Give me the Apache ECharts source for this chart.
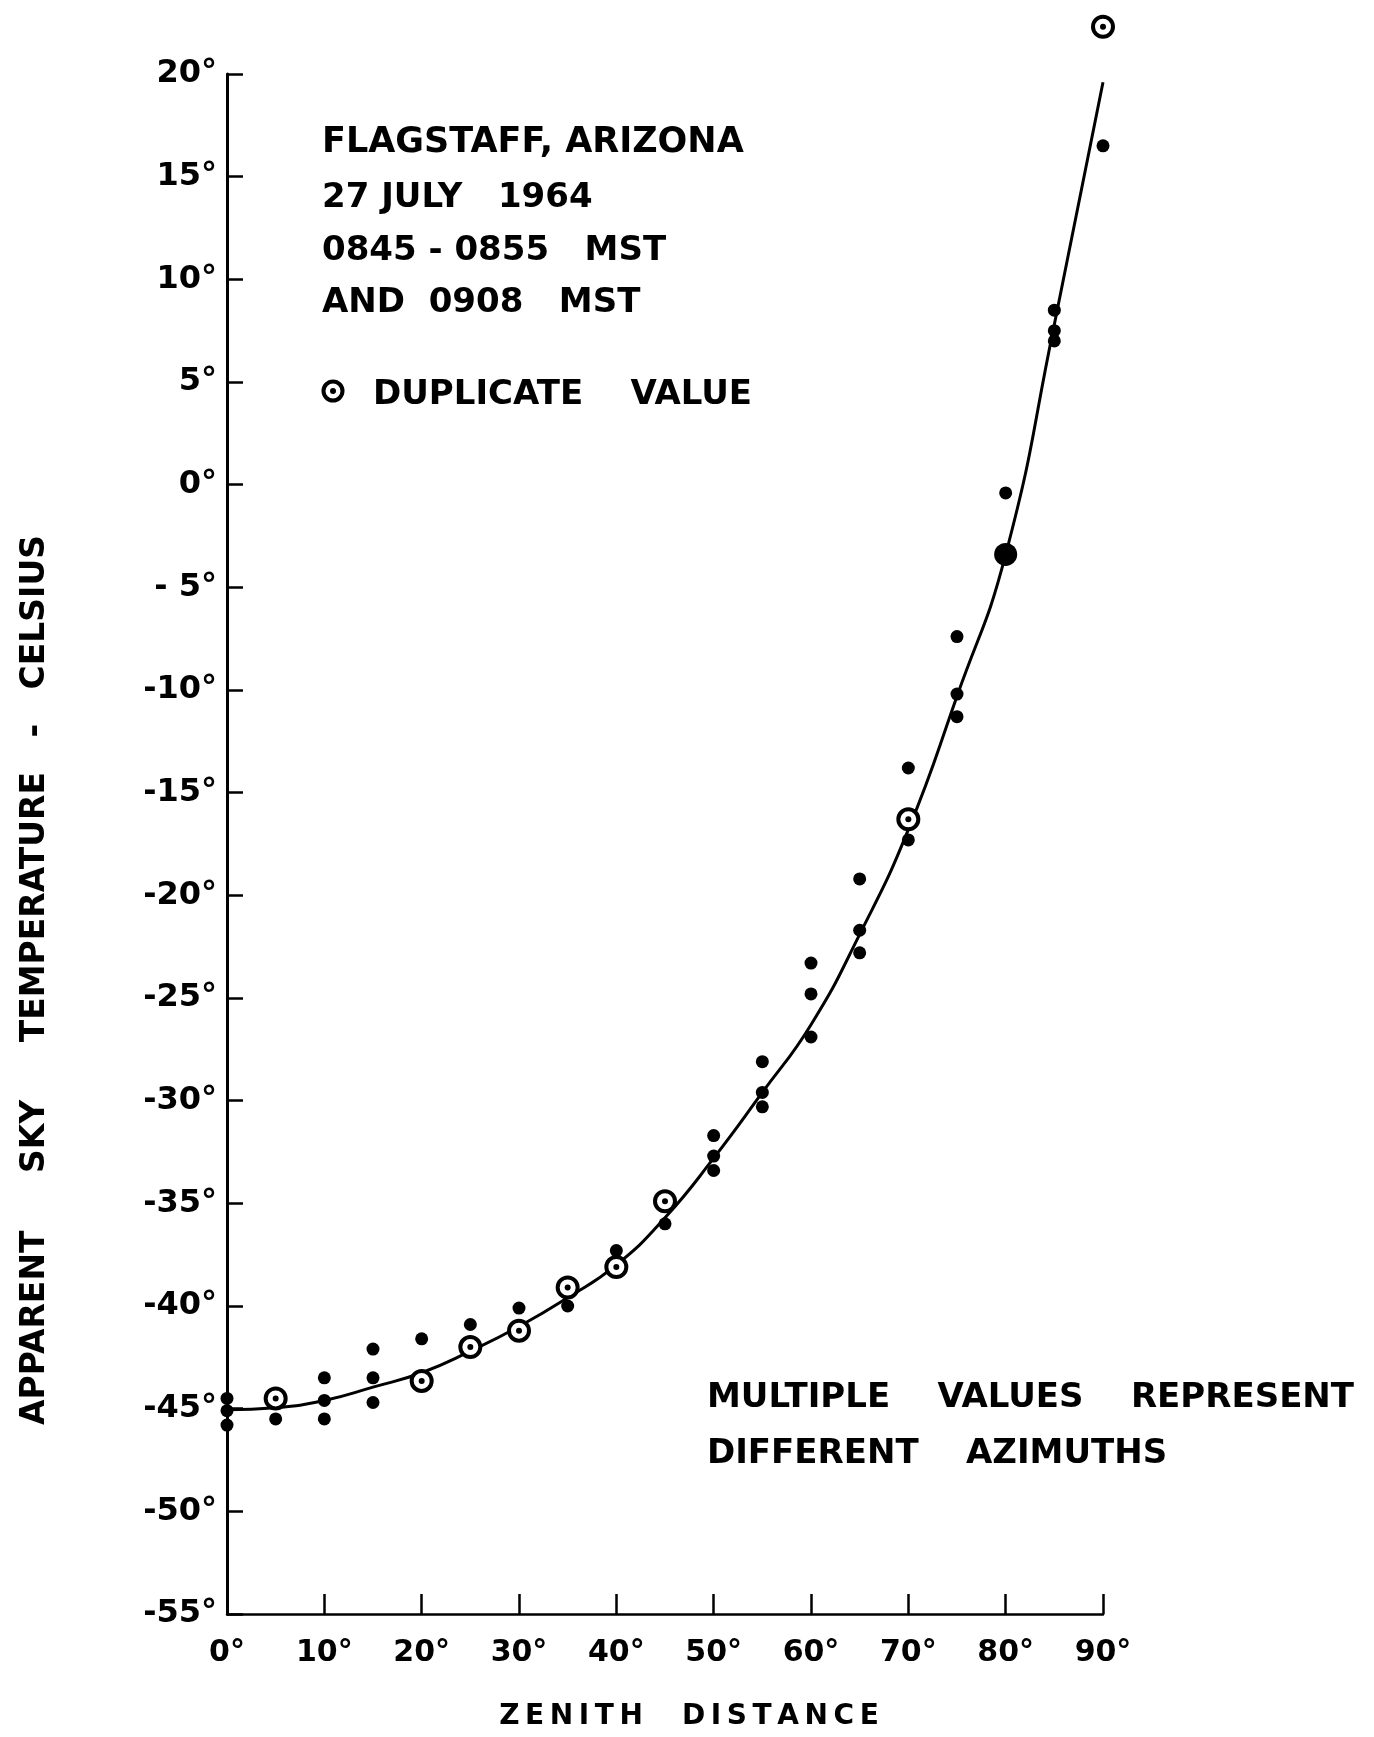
<!DOCTYPE html>
<html>
<head>
<meta charset="utf-8">
<title>Apparent Sky Temperature vs Zenith Distance</title>
<script src="https://cdn.jsdelivr.net/npm/echarts@6.0.0/dist/echarts.min.js"></script>
<style>
  html, body { margin: 0; padding: 0; background: #fff; }
  #chart { width: 1374px; height: 1737px; }
</style>
</head>
<body>
<div id="chart"></div>
<script>
// Individual readings (zenith distance in degrees, apparent sky temperature in deg C)
const zenithDots = [0, 0, 0, 5, 10, 10, 10, 15, 15, 15, 20, 25, 30, 35, 40, 45,
  50, 50, 50, 55, 55, 55, 60, 60, 60, 65, 65, 65, 70, 70, 75, 75, 75, 80, 85, 85, 85, 90];
const tempDots = [-44.5, -45.1, -45.8, -45.5, -43.5, -44.6, -45.5, -42.1, -43.5, -44.7,
  -41.6, -40.9, -40.1, -40.0, -37.3, -36.0, -31.7, -32.7, -33.4, -28.1, -29.6, -30.3,
  -23.3, -24.8, -26.9, -19.2, -21.7, -22.8, -13.8, -17.3, -7.4, -10.2, -11.3, -0.4,
  8.5, 7.5, 7.0, 16.5];

// Readings that occurred twice (drawn as a ring with a centre dot)
const zenithDup = [5, 20, 25, 30, 35, 40, 45, 70, 90];
const tempDup = [-44.5, -43.65, -42.0, -41.2, -39.1, -38.1, -34.9, -16.3, 22.3];

// Overlapping readings that merge into one large spot
const zenithMerged = [80];
const tempMerged = [-3.4];

// Smooth fitted curve through the readings
const curveZenith = [0, 5, 10, 15, 20, 25, 30, 35, 40, 45, 50, 55, 60, 65, 70, 75, 80, 85, 90];
const curveTemp = [-45.05, -44.95, -44.6, -43.95, -43.25, -42.2, -41.0, -39.6, -38.0, -35.7,
  -32.8, -29.6, -26.3, -21.9, -16.8, -10.3, -3.4, 7.8, 19.6];

// Axis tick labels
const xTicks = [0, 10, 20, 30, 40, 50, 60, 70, 80, 90];
const xTickLabels = ['0°', '10°', '20°', '30°', '40°', '50°', '60°', '70°', '80°', '90°'];
const yTicks = [20, 15, 10, 5, 0, -5, -10, -15, -20, -25, -30, -35, -40, -45, -50, -55];
const yTickLabels = ['20°', '15°', '10°', '5°', '0°', '- 5°', '-10°', '-15°', '-20°', '-25°',
  '-30°', '-35°', '-40°', '-45°', '-50°', '-55°'];

const pairs = (xs, ys) => xs.map((x, i) => [x, ys[i]]);

const FONT = '"DejaVu Sans", "Liberation Sans", sans-serif';
const INK = '#000';

const chart = echarts.init(document.getElementById('chart'), null, { renderer: 'canvas' });

const textLine = (str, x, y, size) => ({
  type: 'text',
  x: x, y: y,
  silent: true,
  style: {
    text: str,
    fill: INK,
    font: 'bold ' + size + 'px ' + FONT,
    textAlign: 'left',
    textVerticalAlign: 'middle'
  }
});

const option = {
  animation: false,
  backgroundColor: '#fff',
  grid: { left: 227, right: 271, top: 74, bottom: 123, containLabel: false, outerBoundsMode: 'none' },
  xAxis: {
    type: 'value',
    min: 0, max: 90, interval: 10,
    axisLine: { show: true, onZero: false, lineStyle: { color: INK, width: 2.5 } },
    axisTick: { show: true, inside: true, length: 20, lineStyle: { color: INK, width: 2.5 } },
    axisLabel: {
      color: INK, fontFamily: FONT, fontWeight: 'bold', fontSize: 30, margin: 24,
      formatter: v => xTickLabels[xTicks.indexOf(v)] ?? ''
    },
    splitLine: { show: false }
  },
  yAxis: {
    type: 'value',
    min: -55, max: 20, interval: 5,
    axisLine: { show: true, onZero: false, lineStyle: { color: INK, width: 3 } },
    axisTick: { show: true, inside: true, length: 16, lineStyle: { color: INK, width: 2.5 } },
    axisLabel: {
      color: INK, fontFamily: FONT, fontWeight: 'bold', fontSize: 32, margin: 10,
      formatter: v => yTickLabels[yTicks.indexOf(v)] ?? ''
    },
    splitLine: { show: false }
  },
  series: [
    {
      name: 'curve',
      type: 'line',
      data: pairs(curveZenith, curveTemp),
      smooth: 0.5,
      symbol: 'none',
      silent: true,
      clip: false,
      z: 2,
      lineStyle: { color: INK, width: 3, opacity: 1 }
    },
    {
      name: 'readings',
      type: 'scatter',
      data: pairs(zenithDots, tempDots),
      symbol: 'circle',
      symbolSize: 13,
      clip: false,
      z: 3,
      itemStyle: { color: INK, opacity: 1 }
    },
    {
      name: 'merged',
      type: 'scatter',
      data: pairs(zenithMerged, tempMerged),
      symbol: 'circle',
      symbolSize: 23,
      clip: false,
      z: 3,
      itemStyle: { color: INK, opacity: 1 }
    },
    {
      name: 'duplicate ring',
      type: 'scatter',
      data: pairs(zenithDup, tempDup),
      symbol: 'circle',
      symbolSize: 20,
      clip: false,
      z: 4,
      itemStyle: { color: '#fff', borderColor: INK, borderWidth: 4, opacity: 1 }
    },
    {
      name: 'duplicate centre',
      type: 'scatter',
      data: pairs(zenithDup, tempDup),
      symbol: 'circle',
      symbolSize: 6,
      clip: false,
      z: 5,
      itemStyle: { color: INK, opacity: 1 }
    }
  ],
  graphic: [
    textLine('FLAGSTAFF, ARIZONA', 322, 143, 35),
    textLine('27 JULY   1964', 322, 198, 34),
    textLine('0845 - 0855   MST', 322, 251, 34),
    textLine('AND  0908   MST', 322, 303, 34),
    {
      type: 'circle', silent: true,
      shape: { cx: 333, cy: 391, r: 9.5 },
      style: { fill: '#fff', stroke: INK, lineWidth: 4 }
    },
    {
      type: 'circle', silent: true,
      shape: { cx: 333, cy: 391, r: 3 },
      style: { fill: INK }
    },
    textLine('DUPLICATE    VALUE', 373, 395, 34),
    textLine('MULTIPLE    VALUES    REPRESENT', 707, 1398, 34),
    textLine('DIFFERENT    AZIMUTHS', 707, 1454, 34),
    {
      type: 'text', silent: true,
      x: 35, y: 980,
      rotation: Math.PI / 2,
      style: {
        text: 'APPARENT     SKY     TEMPERATURE   -   CELSIUS',
        fill: INK,
        font: 'bold 33px ' + FONT,
        textAlign: 'center',
        textVerticalAlign: 'middle'
      }
    },
    {
      type: 'text', silent: true,
      x: 689, y: 1717,
      style: {
        text: 'Z\u2009E\u2009N\u2009I\u2009T\u2009H    D\u2009I\u2009S\u2009T\u2009A\u2009N\u2009C\u2009E',
        fill: INK,
        font: 'bold 28px ' + FONT,
        textAlign: 'center',
        textVerticalAlign: 'middle'
      }
    }
  ]
};

chart.setOption(option);
</script>
</body>
</html>
